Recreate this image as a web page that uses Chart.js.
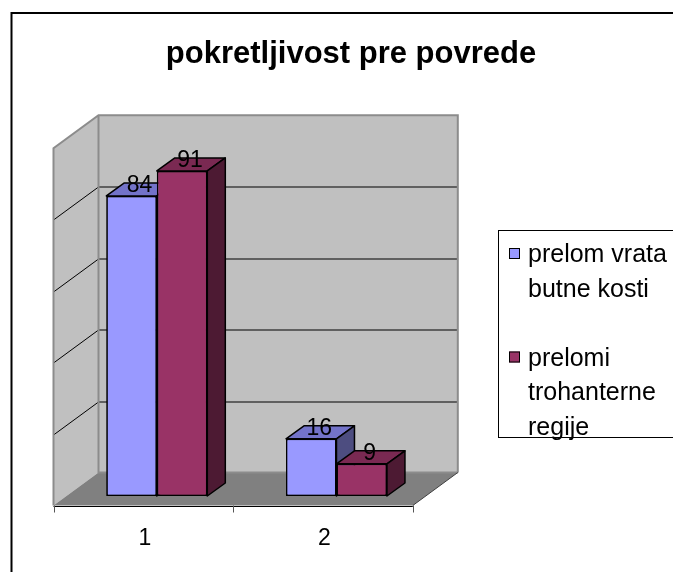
<!DOCTYPE html>
<html>
<head>
<meta charset="utf-8">
<script src="https://cdn.jsdelivr.net/npm/chart.js@4/dist/chart.umd.min.js"></script>
<style>
  html, body { margin: 0; padding: 0; background: #ffffff; }
  canvas { display: block; }
</style>
</head>
<body>
<canvas id="c" width="673" height="572"></canvas>
<script>
// ---- data ----
const categories = ['1', '2'];
const seriesNames = ['prelom vrata butne kosti', 'prelomi trohanterne regije'];
const vrataValues = [84, 16];
const trohanterValues = [91, 9];
const yTicks = [0, 20, 40, 60, 80, 100];
const legendLines = [['prelom vrata', 'butne kosti'], ['prelomi', 'trohanterne', 'regije']];
const titleText = 'pokretljivost pre povrede';

// ---- styles ----
const FONT = "'Liberation Sans', Arial, sans-serif";
const faceColors = ['#9999FF', '#993366'];
const topColors = ['#7373C9', '#7A2952'];
const sideColors = ['#4D4D80', '#4D1A33'];
const FRONT = { dx: -13.5, dy: 9.5 };   // floor front edge offset from bar front plane
const BACK = { dx: 31.5, dy: -23.5 };   // back wall offset from bar front plane
const DEPTH = { dx: 18, dy: -13 };      // bar depth

function drawTopSide(ctx, el, i) {
  const p = el.getProps(['x', 'y', 'base', 'width'], true);
  const l = p.x - p.width / 2, r = p.x + p.width / 2;
  ctx.save();
  ctx.strokeStyle = '#000000';
  ctx.lineWidth = 1.5;
  ctx.lineJoin = 'round';
  ctx.fillStyle = topColors[i];
  ctx.beginPath();
  ctx.moveTo(l, p.y);
  ctx.lineTo(l + DEPTH.dx, p.y + DEPTH.dy);
  ctx.lineTo(r + DEPTH.dx, p.y + DEPTH.dy);
  ctx.lineTo(r, p.y);
  ctx.closePath();
  ctx.fill();
  ctx.stroke();
  ctx.fillStyle = sideColors[i];
  ctx.beginPath();
  ctx.moveTo(r, p.y);
  ctx.lineTo(r + DEPTH.dx, p.y + DEPTH.dy);
  ctx.lineTo(r + DEPTH.dx, p.base + DEPTH.dy);
  ctx.lineTo(r, p.base);
  ctx.closePath();
  ctx.fill();
  ctx.stroke();
  ctx.restore();
}

const threeD = {
  id: 'threeD',
  beforeDatasetsDraw(chart) {
    const { ctx, chartArea: a, scales: { y } } = chart;
    const y0 = y.getPixelForValue(yTicks[0]);
    const yTop = y.getPixelForValue(yTicks[yTicks.length - 1]);
    ctx.save();
    ctx.fillStyle = '#C0C0C0';
    ctx.fillRect(a.left + BACK.dx, yTop + BACK.dy, a.right - a.left, y0 - yTop);
    ctx.beginPath();
    ctx.moveTo(a.left + FRONT.dx, yTop + FRONT.dy);
    ctx.lineTo(a.left + BACK.dx, yTop + BACK.dy);
    ctx.lineTo(a.left + BACK.dx, y0 + BACK.dy);
    ctx.lineTo(a.left + FRONT.dx, y0 + FRONT.dy);
    ctx.closePath();
    ctx.fill();
    ctx.fillStyle = '#808080';
    ctx.beginPath();
    ctx.moveTo(a.left + FRONT.dx, y0 + FRONT.dy);
    ctx.lineTo(a.left + BACK.dx, y0 + BACK.dy);
    ctx.lineTo(a.right + BACK.dx, y0 + BACK.dy);
    ctx.lineTo(a.right + FRONT.dx, y0 + FRONT.dy);
    ctx.closePath();
    ctx.fill();
    ctx.strokeStyle = '#000000';
    ctx.lineWidth = 1;
    yTicks.slice(1, -1).forEach(v => {
      const py = Math.round(y.getPixelForValue(v)) + 0.5;
      ctx.beginPath();
      ctx.moveTo(a.left + FRONT.dx, py + FRONT.dy);
      ctx.lineTo(a.left + BACK.dx, py + BACK.dy);
      ctx.lineTo(a.right + BACK.dx, py + BACK.dy);
      ctx.stroke();
    });
    ctx.strokeStyle = '#8C8C8C';
    ctx.lineWidth = 2;
    ctx.beginPath();
    ctx.moveTo(a.left + FRONT.dx, y0 + FRONT.dy);
    ctx.lineTo(a.left + FRONT.dx, yTop + FRONT.dy);
    ctx.lineTo(a.left + BACK.dx, yTop + BACK.dy);
    ctx.lineTo(a.right + BACK.dx, yTop + BACK.dy);
    ctx.lineTo(a.right + BACK.dx, y0 + BACK.dy);
    ctx.moveTo(a.left + BACK.dx, yTop + BACK.dy);
    ctx.lineTo(a.left + BACK.dx, y0 + BACK.dy);
    ctx.lineTo(a.right + BACK.dx, y0 + BACK.dy);
    ctx.stroke();
    ctx.strokeStyle = '#404040';
    ctx.lineWidth = 1;
    ctx.beginPath();
    ctx.moveTo(a.right + FRONT.dx, y0 + FRONT.dy);
    ctx.lineTo(a.right + BACK.dx, y0 + BACK.dy);
    ctx.stroke();
    ctx.strokeStyle = '#000000';
    ctx.beginPath();
    ctx.moveTo(a.left + FRONT.dx, Math.round(y0 + FRONT.dy) + 0.5);
    ctx.lineTo(a.right + FRONT.dx, Math.round(y0 + FRONT.dy) + 0.5);
    ctx.stroke();
    ctx.strokeStyle = '#555555';
    const n = categories.length;
    for (let i = 0; i <= n; i++) {
      const px = Math.round(a.left + (a.right - a.left) * i / n + FRONT.dx) + 0.5;
      ctx.beginPath();
      ctx.moveTo(px, y0 + FRONT.dy);
      ctx.lineTo(px, y0 + FRONT.dy + 7);
      ctx.stroke();
    }
    ctx.restore();
  },
  afterDatasetsDraw(chart) {
    const { ctx } = chart;
    // redraw bars front-to-back in series order so each later series covers the previous side face
    chart.data.datasets.forEach((ds, i) => {
      chart.getDatasetMeta(i).data.forEach(el => {
        el.draw(ctx);
        drawTopSide(ctx, el, i);
      });
    });
    ctx.save();
    ctx.fillStyle = '#000000';
    ctx.font = '23px ' + FONT;
    ctx.textAlign = 'center';
    ctx.textBaseline = 'middle';
    chart.data.datasets.forEach((ds, i) => {
      chart.getDatasetMeta(i).data.forEach((el, j) => {
        const p = el.getProps(['x', 'y'], true);
        ctx.fillText(String(ds.data[j]), p.x + DEPTH.dx / 2 - 1, p.y + DEPTH.dy / 2 - 4);
      });
    });
    ctx.restore();
  },
  afterDraw(chart) {
    const { ctx } = chart;
    ctx.save();
    ctx.strokeStyle = '#000000';
    ctx.lineWidth = 2;
    ctx.strokeRect(11.5, 13, 900, 900);
    ctx.lineWidth = 1;
    ctx.strokeRect(498.5, 230.5, 300, 207);
    ctx.font = '25px ' + FONT;
    ctx.textAlign = 'left';
    ctx.textBaseline = 'alphabetic';
    let base = 262;
    legendLines.forEach((lines, i) => {
      ctx.fillStyle = faceColors[i];
      ctx.fillRect(509, base - 14, 11, 11);
      ctx.strokeStyle = '#000000';
      ctx.strokeRect(509.5, base - 13.5, 10, 10);
      ctx.fillStyle = '#000000';
      lines.forEach((t, k) => {
        ctx.fillText(t, 528, base + k * 34.5);
      });
      base += lines.length * 34.5 + 34.5;
    });
    ctx.restore();
  }
};

new Chart(document.getElementById('c'), {
  type: 'bar',
  data: {
    labels: categories,
    datasets: [
      { label: seriesNames[0], data: vrataValues, backgroundColor: faceColors[0],
        borderColor: '#000000', borderWidth: 1.5, borderSkipped: false },
      { label: seriesNames[1], data: trohanterValues, backgroundColor: faceColors[1],
        borderColor: '#000000', borderWidth: 1.5, borderSkipped: false }
    ]
  },
  options: {
    responsive: false,
    animation: false,
    devicePixelRatio: 1,
    categoryPercentage: 0.562,
    barPercentage: 1,
    layout: { padding: { left: 29, right: 0, top: 0, bottom: 0 } },
    plugins: {
      legend: { display: false },
      tooltip: { enabled: false },
      title: {
        display: true,
        text: titleText,
        color: '#000000',
        font: { family: FONT, size: 31, weight: 'bold', lineHeight: 1.2 },
        padding: { top: 36, bottom: 65.6 }
      }
    },
    scales: {
      x: {
        grid: { display: false, drawTicks: false },
        border: { display: false },
        ticks: { color: '#000000', font: { family: FONT, size: 23 }, padding: 29, labelOffset: -12 },
        afterFit: s => { s.height = 76; }
      },
      y: {
        min: 0, max: 100,
        ticks: { display: false, stepSize: 20 },
        grid: { display: false },
        border: { display: false },
        afterFit: s => { s.width = 38; }
      },
      yRight: {
        type: 'linear',
        position: 'right',
        ticks: { display: false },
        grid: { display: false },
        border: { display: false },
        afterFit: s => { s.width = 246.7; }
      }
    }
  },
  plugins: [threeD]
});
</script>
</body>
</html>
